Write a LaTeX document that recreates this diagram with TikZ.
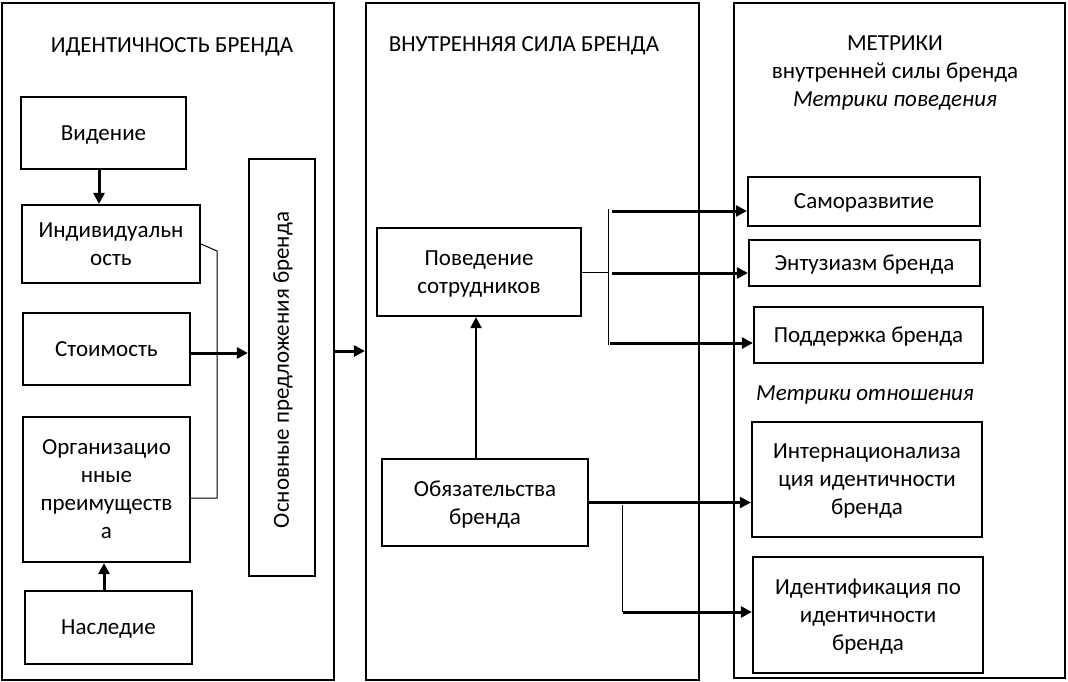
\documentclass[tikz,border=0pt]{standalone}
\usepackage{fontspec}
\setmainfont{Carlito}
\usetikzlibrary{arrows.meta}
\begin{document}
\begin{tikzpicture}[x=1pt,y=-1pt,
  every node/.style={font=\fontsize{23}{28}\selectfont},
  panel/.style={draw,line width=2.2pt,inner sep=0pt},
  box/.style={draw,line width=2.2pt,align=center,inner sep=0pt,text depth=0pt},
  thickarr/.style={line width=3pt,-{Triangle[length=11pt,width=11pt]}},
  medarr/.style={line width=2.2pt,-{Triangle[length=11pt,width=11pt]}},
  thinline/.style={line width=1pt},
  lbl/.style={align=center,inner sep=0pt}]
\useasboundingbox (0,0) rectangle (1068,682);
% panels
\node[panel,minimum width=332pt,minimum height=677pt] (panelL) at (168,341.5) {};
\node[panel,minimum width=333pt,minimum height=677pt] (panelM) at (532.5,341.5) {};
\node[panel,minimum width=331pt,minimum height=675pt] (panelR) at (899.5,340.5) {};
% titles
\node[lbl] (tL) at (172,47) {ИДЕНТИЧНОСТЬ БРЕНДА};
\node[lbl] (tM) at (524,46) {ВНУТРЕННЯЯ СИЛА БРЕНДА};
\node[lbl] (tR) at (895,73) {МЕТРИКИ\\внутренней силы бренда\\\textit{Метрики поведения}};
\node[lbl] (tR2) at (865,395) {\textit{Метрики отношения}};
% left boxes
\node[box,minimum width=165pt,minimum height=72pt] (vision) at (103.5,133) {Видение};
\node[box,minimum width=178pt,minimum height=78pt] (indiv) at (111,244) {Индивидуальн\\ость};
\node[box,minimum width=167pt,minimum height=72pt] (cost) at (106.5,349) {Стоимость};
\node[box,minimum width=167pt,minimum height=145pt] (org) at (106.5,489.5) {Организацио\\нные\\преимуществ\\а};
\node[box,minimum width=167pt,minimum height=73pt] (herit) at (108.5,627.5) {Наследие};
\node[box,minimum width=66pt,minimum height=417pt] (core) at (282,367.5) {};
\node[lbl,rotate=90] (coretext) at (283,370) {Основные предложения бренда};
% middle boxes
\node[box,minimum width=204pt,minimum height=88pt] (behav) at (479,272) {Поведение\\сотрудников};
\node[box,minimum width=206pt,minimum height=87pt] (commit) at (485,502.5) {Обязательства\\бренда};
% right boxes
\node[box,minimum width=232pt,minimum height=49pt] (self) at (864,201.5) {Саморазвитие};
\node[box,minimum width=231pt,minimum height=46pt] (enth) at (864.5,263) {Энтузиазм бренда};
\node[box,minimum width=229pt,minimum height=56pt] (supp) at (868.5,335) {Поддержка бренда};
\node[box,minimum width=230pt,minimum height=115pt] (intern) at (867,479.5) {Интернационализа\\ция идентичности\\бренда};
\node[box,minimum width=230pt,minimum height=116pt] (ident) at (868,615) {Идентификация по\\идентичности\\бренда};
% junction coordinates
\coordinate (k1) at (217,251);
\coordinate (jt) at (608,209);
\coordinate (jb) at (608,345);
\coordinate (jm) at (608,272);
\coordinate (a1) at (612,211);
\coordinate (a2) at (612,273);
\coordinate (a3) at (610,343);
\coordinate (vt) at (622,505);
\coordinate (vb) at (622,612);
\coordinate (a4) at (623,612);
% left connectors
\draw[thickarr] ([xshift=-4.5pt]vision.south) -- ([xshift=-4.5pt]vision.south |- indiv.north);
\draw[thickarr] ([xshift=-4.5pt]herit.north) -- ([xshift=-4.5pt]herit.north |- org.south);
\draw[thickarr] ([yshift=-4pt]cost.east) -- ([yshift=-4pt]cost.east -| core.west);
\draw[thinline] (indiv.east) -- (k1) |- ([yshift=-8.5pt]org.east);
\draw[thickarr] ([yshift=-9.5pt]panelL.east) -- ([yshift=-9.5pt]panelL.east -| panelM.west);
% middle connectors
\draw[medarr] ([xshift=-9pt]commit.north) -- ([xshift=-9pt]commit.north |- behav.south);
\draw[thinline] (behav.east) -- (jm);
\draw[thinline] (jt) -- (jb);
\draw[thickarr] (a1) -- (a1 -| self.west);
\draw[thickarr] (a2) -- (a2 -| enth.west);
\draw[thickarr] (a3) -- (a3 -| supp.west);
\draw[medarr] (commit.east) -- (commit.east -| intern.west);
\draw[thinline] (vt) -- (vb);
\draw[thickarr] (a4) -- (a4 -| ident.west);
\end{tikzpicture}
\end{document}
